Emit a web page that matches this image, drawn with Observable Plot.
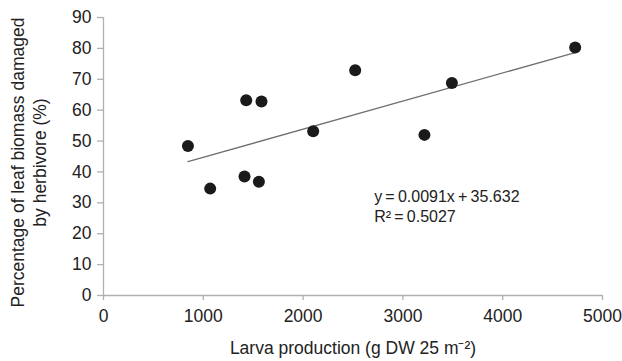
<!DOCTYPE html>
<html>
<head>
<meta charset="utf-8">
<script src="https://cdn.jsdelivr.net/npm/d3@7"></script>
<script src="https://cdn.jsdelivr.net/npm/@observablehq/plot@0.6"></script>
<style>
  html, body { margin: 0; padding: 0; background: #fff; }
  svg { font-family: "Liberation Sans", Arial, Helvetica, sans-serif; }
</style>
</head>
<body>
<div id="chart"></div>
<script>
// Data
const larvaProduction = [846, 1069, 1413, 1430, 1557, 1583, 2101, 2522, 3216, 3491, 4726];
const leafDamaged     = [48.4, 34.6, 38.5, 63.2, 36.8, 62.8, 53.2, 72.9, 52.0, 68.8, 80.3];

const xTicks = [0, 1000, 2000, 3000, 4000, 5000];
const yTicks = [0, 10, 20, 30, 40, 50, 60, 70, 80, 90];

const slope = 0.0091;
const intercept = 35.632;
const equationText = "y\u2009=\u20090.0091x\u2009+\u200935.632";
const r2Text = "R\u00B2\u2009=\u20090.5027";
const xLabel = "Larva production (g DW 25 m\u207B\u00B2)";
const yLabelLines = ["Percentage of leaf biomass damaged", "by herbivore (%)"];

const points = larvaProduction.map((x, i) => ({x, y: leafDamaged[i]}));
const xMin = d3.min(larvaProduction), xMax = d3.max(larvaProduction);
const fit = [xMin, xMax].map(x => ({x, y: slope * x + intercept}));

const axisColor = "#b0b0b0";
const textColor = "#222";
const fs = 17.5;

const chart = Plot.plot({
  width: 622,
  height: 361,
  marginLeft: 103,
  marginRight: 20,
  marginTop: 17,
  marginBottom: 66,
  style: {fontFamily: "Liberation Sans, Arial, sans-serif", fontSize: fs + "px", color: textColor, background: "#fff"},
  x: {domain: [0, 5000]},
  y: {domain: [0, 90]},
  marks: [
    Plot.ruleX([0], {stroke: axisColor, strokeWidth: 1.3}),
    Plot.ruleY([0], {stroke: axisColor, strokeWidth: 1.3}),
    Plot.axisX({ticks: xTicks, tickSize: 5, tickPadding: 9, stroke: axisColor, strokeWidth: 1.3, fill: textColor, fontSize: fs, label: null, tickFormat: d => String(d)}),
    Plot.axisY({ticks: yTicks, tickSize: 6, tickPadding: 6, stroke: axisColor, strokeWidth: 1.3, fill: textColor, fontSize: fs, label: null, tickFormat: d => String(d)}),
    Plot.line(fit, {x: "x", y: "y", stroke: "#707070", strokeWidth: 1.3}),
    Plot.dot(points, {x: "x", y: "y", r: 6, fill: "#1a1a1a", stroke: "none"}),
    Plot.text([equationText], {x: 2712, y: 31.8, text: d => d, textAnchor: "start", fontSize: 16, fill: textColor}),
    Plot.text([r2Text], {x: 2712, y: 25.3, text: d => d, textAnchor: "start", fontSize: 16, fill: textColor}),
    Plot.text([xLabel], {frameAnchor: "bottom", dy: 58, text: d => d, textAnchor: "middle", fontSize: fs, fill: textColor}),
    Plot.text([yLabelLines[0]], {frameAnchor: "left", dx: -85, dy: 6, rotate: -90, textAnchor: "middle", text: d => d, fontSize: fs, fill: textColor}),
    Plot.text([yLabelLines[1]], {frameAnchor: "left", dx: -63, dy: 6, rotate: -90, textAnchor: "middle", text: d => d, fontSize: fs, fill: textColor})
  ]
});
document.getElementById("chart").appendChild(chart);
</script>
</body>
</html>
